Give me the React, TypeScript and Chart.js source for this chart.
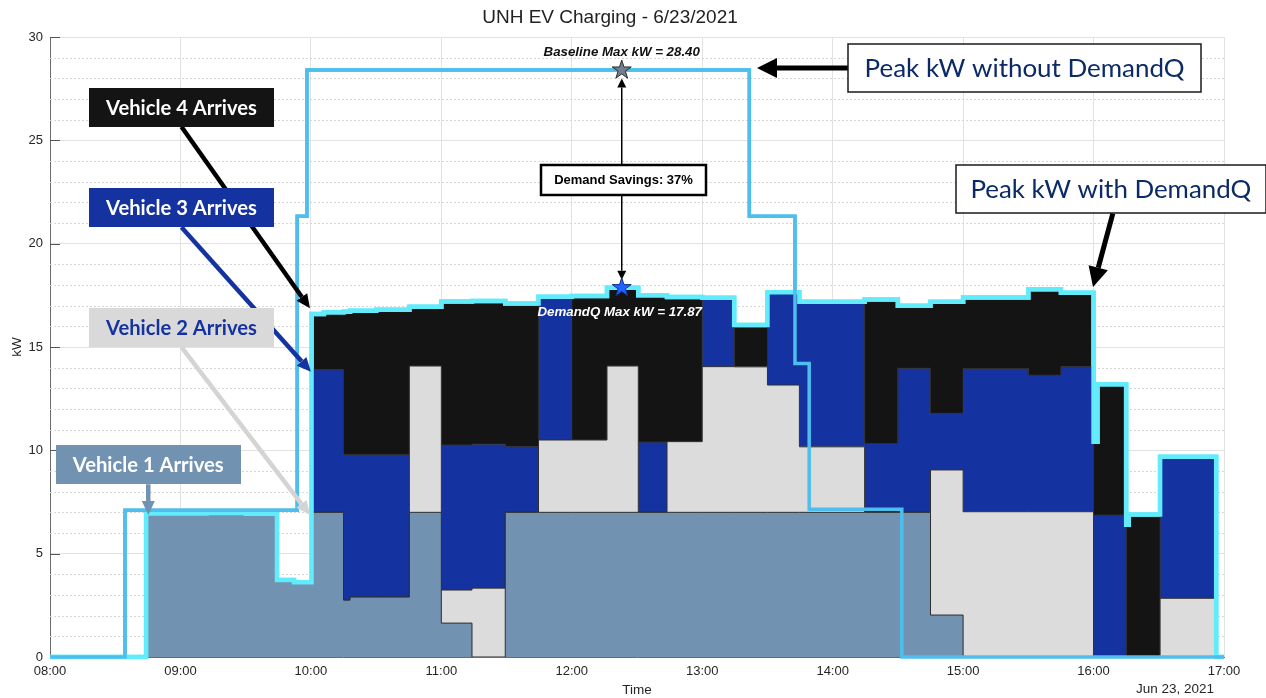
import React, { useEffect, useRef } from 'react';
import { Chart, registerables } from 'chart.js';

Chart.register(...registerables);

// ---------- data (hours since midnight, kW) ----------
const times = [8.0, 8.737, 9.2, 9.5, 9.74, 9.87, 10.005, 10.1, 10.25, 10.3, 10.5, 10.755, 11.0, 11.235, 11.49, 11.745, 12.0, 12.27, 12.51, 12.73, 13.0, 13.245, 13.5, 13.745, 14.245, 14.5, 14.75, 15.0, 15.5, 15.75, 16.0, 16.03, 16.25, 16.27, 16.51, 16.94, 17.0];
const vehicle1Kw = [0, 6.94, 6.97, 6.93, 3.72, 3.62, 7.0, 7.0, 2.75, 2.9, 2.9, 7.0, 1.64, 0, 7.0, 7.0, 7.0, 7.0, 7.0, 7.0, 7.0, 7.0, 7.0, 7.0, 7.0, 7.0, 2.03, 0, 0, 0, 0, 0, 0, 0, 0, 0, 0];
const vehicle2Kw = [0, 0, 0, 0, 0, 0, 0, 0, 0, 0, 0, 7.08, 1.6, 3.33, 0, 3.5, 3.5, 7.08, 0, 3.42, 7.05, 7.04, 6.16, 3.17, 0, 0, 7.02, 7.03, 7.03, 7.03, 0, 0, 0, 0, 2.84, 0, 0];
const vehicle3Kw = [0, 0, 0, 0, 0, 0, 6.9, 6.9, 7.05, 6.9, 6.9, 0, 7.02, 6.97, 3.17, 6.93, 0, 0, 3.4, 0, 3.33, 0, 4.49, 7.02, 3.33, 6.97, 2.74, 6.93, 6.61, 7.01, 6.87, 6.87, 0, 0, 6.85, 0, 0];
const vehicle4Kw = [0, 0, 0, 0, 0, 0, 2.7, 2.78, 6.9, 6.95, 7.0, 2.87, 6.94, 6.92, 6.93, 0, 6.97, 3.79, 7.1, 7.0, 0, 2.02, 0, 0, 6.97, 3.03, 5.4, 3.44, 4.15, 3.59, 3.55, 6.33, 6.4, 6.9, 0, 0, 0];

const baselineTimes = [8.0, 8.575, 9.895, 9.97, 13.361, 13.711, 13.82, 14.53, 17.0];
const baselineKw = [0, 7.1, 21.33, 28.4, 21.33, 14.2, 7.15, 0, 0];

const hourLabels = ['08:00', '09:00', '10:00', '11:00', '12:00', '13:00', '14:00', '15:00', '16:00', '17:00'];
const kwTicks = [0, 5, 10, 15, 20, 25, 30];

const peakTime = 12.383;
const baselineMax = 28.4;
const demandQMax = 17.87;
const savingsPct = 37;

// ---------- annotation layout ----------
const arrivalNotes = [
  { text: 'Vehicle 4 Arrives', at: [9.008, 26.6], tip: [9.993, 16.87], bg: '#141414', fg: '#ffffff', arrow: '#000000' },
  { text: 'Vehicle 3 Arrives', at: [9.008, 21.74], tip: [10.0, 13.8], bg: '#1533A0', fg: '#ffffff', arrow: '#1533A0' },
  { text: 'Vehicle 2 Arrives', at: [9.008, 15.94], tip: [9.993, 6.87], bg: '#D9D9D9', fg: '#1533A0', arrow: '#D4D4D4' },
  { text: 'Vehicle 1 Arrives', at: [8.753, 9.3], tip: [8.754, 6.87], bg: '#7292B1', fg: '#ffffff', arrow: '#7292B1' },
];

const AX = "'Liberation Sans', Arial, Helvetica, sans-serif";
const CAL = "Lato, 'Open Sans', sans-serif";

function fitSize(ctx: CanvasRenderingContext2D, text: string, weight: string, family: string, target: number) {
  ctx.font = `${weight} 100px ${family}`;
  return (100 * target) / ctx.measureText(text).width;
}

function drawArrow(ctx: CanvasRenderingContext2D, x1: number, y1: number, x2: number, y2: number, color: string, width: number, headLen: number, headW: number) {
  const a = Math.atan2(y2 - y1, x2 - x1);
  const bx = x2 - headLen * Math.cos(a);
  const by = y2 - headLen * Math.sin(a);
  ctx.strokeStyle = color;
  ctx.lineWidth = width;
  ctx.lineCap = 'butt';
  ctx.beginPath();
  ctx.moveTo(x1, y1);
  ctx.lineTo(bx, by);
  ctx.stroke();
  ctx.fillStyle = color;
  ctx.beginPath();
  ctx.moveTo(x2, y2);
  ctx.lineTo(bx + (headW / 2) * Math.sin(a), by - (headW / 2) * Math.cos(a));
  ctx.lineTo(bx - (headW / 2) * Math.sin(a), by + (headW / 2) * Math.cos(a));
  ctx.closePath();
  ctx.fill();
}

function drawStar(ctx: CanvasRenderingContext2D, cx: number, cy: number, R: number, fill: string, stroke: string) {
  ctx.beginPath();
  for (let i = 0; i < 10; i++) {
    const r = i % 2 === 0 ? R : R * 0.382;
    const a = -Math.PI / 2 + (i * Math.PI) / 5;
    ctx.lineTo(cx + r * Math.cos(a), cy + r * Math.sin(a));
  }
  ctx.closePath();
  ctx.fillStyle = fill;
  ctx.fill();
  ctx.strokeStyle = stroke;
  ctx.lineWidth = 1;
  ctx.stroke();
}

function textBox(ctx: CanvasRenderingContext2D, text: string, cx: number, cy: number, w: number, h: number, bg: string, fg: string, weight: string, family: string, textW: number, border?: string, borderW?: number) {
  const x = Math.round(cx - w / 2);
  const y = Math.round(cy - h / 2);
  ctx.fillStyle = bg;
  ctx.fillRect(x, y, w, h);
  if (border) {
    ctx.strokeStyle = border;
    ctx.lineWidth = borderW || 1;
    ctx.strokeRect(x, y, w, h);
  }
  const size = fitSize(ctx, text, weight, family, textW);
  ctx.font = `${weight} ${size}px ${family}`;
  ctx.fillStyle = fg;
  ctx.textAlign = 'center';
  ctx.textBaseline = 'alphabetic';
  ctx.fillText(text, cx, y + h / 2 + (0.7165 * size) / 2);
}

const decorPlugin = {
  id: 'decor',
  beforeDatasetsDraw(chart: any) {
    const { ctx, chartArea: a, scales } = chart;
    const y = scales.y;
    ctx.save();
    ctx.strokeStyle = '#d6d6d6';
    ctx.lineWidth = 1;
    ctx.setLineDash([2, 2]);
    for (let k = 1; k < 30; k++) {
      if (k % 5 === 0) continue;
      const py = Math.round(y.getPixelForValue(k)) + 0.5;
      ctx.beginPath();
      ctx.moveTo(a.left, py);
      ctx.lineTo(a.right, py);
      ctx.stroke();
    }
    ctx.setLineDash([]);
    ctx.strokeStyle = '#555555';
    for (const k of kwTicks) {
      const py = Math.round(y.getPixelForValue(k)) + 0.5;
      ctx.beginPath();
      ctx.moveTo(a.left, py);
      ctx.lineTo(a.left + 10, py);
      ctx.stroke();
    }
    ctx.restore();
  },
  afterDatasetsDraw(chart: any) {
    const ctx = chart.ctx;
    [3, 4].forEach((i) => {
      const meta = chart.getDatasetMeta(i);
      ctx.save();
      meta.dataset.draw(ctx, chart.chartArea);
      ctx.restore();
    });
  },
  afterDraw(chart: any) {
    const { ctx, scales } = chart;
    const X = (v: number) => scales.x.getPixelForValue(v);
    const Y = (v: number) => scales.y.getPixelForValue(v);
    ctx.save();

    // Titles
    ctx.fillStyle = '#222222';
    ctx.textAlign = 'center';
    ctx.textBaseline = 'middle';
    ctx.font = `19px ${AX}`;
    ctx.fillText('UNH EV Charging - 6/23/2021', 610, 18);
    ctx.font = `13.5px ${AX}`;
    ctx.fillStyle = '#262626';
    ctx.fillText('Time', 637, 690);
    ctx.fillText('Jun 23, 2021', 1175, 689);
    ctx.save();
    ctx.translate(17, 347);
    ctx.rotate(-Math.PI / 2);
    ctx.fillText('kW', 0, 0);
    ctx.restore();

    // Arrival annotations
    for (const n of arrivalNotes) {
      const cx = X(n.at[0]);
      const cy = Y(n.at[1]);
      const h = 39;
      drawArrow(ctx, cx, cy + h / 2, X(n.tip[0]), Y(n.tip[1]), n.arrow, 4.5, 14, 13);
      textBox(ctx, n.text, cx, cy, 185, h, n.bg, n.fg, 'bold', CAL, 151);
    }

    // Peak without DemandQ
    {
      const cx = X(15.471), cy = Y(28.5);
      drawArrow(ctx, cx - 176, cy, X(13.42), Y(28.5), '#000000', 5, 20, 20);
      textBox(ctx, 'Peak kW without DemandQ', cx, cy, 353, 48, '#ffffff', '#0B2A66', 'normal', CAL, 320, '#1a1a1a', 1.5);
    }
    // Peak with DemandQ
    {
      const cx = X(16.132), cy = Y(22.63);
      drawArrow(ctx, X(16.148), cy + 24, X(15.996), Y(17.9), '#000000', 5, 20, 20);
      textBox(ctx, 'Peak kW with DemandQ', cx, cy, 310, 48, '#ffffff', '#0B2A66', 'normal', CAL, 281, '#1a1a1a', 1.5);
    }

    // Demand savings
    const sx = X(peakTime);
    const by = Y(baselineMax);
    const dy = Y(demandQMax);
    const boxCy = Y(23.08);
    drawArrow(ctx, sx, boxCy - 15, sx, by + 8.5, '#000000', 1.5, 9, 9);
    drawArrow(ctx, sx, boxCy + 15, sx, dy - 8, '#000000', 1.5, 9, 9);
    ctx.fillStyle = '#ffffff';
    const bw = 165, bh = 30;
    const bxl = Math.round(sx + 1.6 - bw / 2), byt = Math.round(boxCy - bh / 2);
    ctx.fillRect(bxl, byt, bw, bh);
    ctx.strokeStyle = '#000000';
    ctx.lineWidth = 2.5;
    ctx.strokeRect(bxl, byt, bw, bh);
    ctx.fillStyle = '#000000';
    ctx.font = `bold 13px ${AX}`;
    ctx.textAlign = 'center';
    ctx.textBaseline = 'middle';
    ctx.fillText(`Demand Savings: ${savingsPct}%`, bxl + bw / 2, byt + bh / 2 + 0.5);

    // Stars & max labels
    drawStar(ctx, sx, by, 10, '#708090', '#2b2b2b');
    drawStar(ctx, sx, dy, 10, '#1F62FF', '#12308a');
    ctx.font = `italic bold 13.3px ${AX}`;
    ctx.fillStyle = '#111111';
    ctx.fillText(`Baseline Max kW = ${baselineMax.toFixed(2)}`, sx, by - 18);
    ctx.fillStyle = '#ffffff';
    ctx.fillText(`DemandQ Max kW = ${demandQMax.toFixed(2)}`, sx - 2, dy + 25);

    ctx.restore();
  },
};

export default function App() {
  const ref = useRef<HTMLCanvasElement | null>(null);
  useEffect(() => {
    const canvas = ref.current;
    if (!canvas) return;
    const mk = (vals: number[]) => times.map((t, i) => ({ x: t, y: vals[i] }));
    const edge = '#2e2e2e';
    const common = { stack: 'ev', stepped: 'before', pointRadius: 0, borderWidth: 1, borderColor: edge, tension: 0 };
    const chart = new Chart(canvas, {
      type: 'line',
      data: {
        datasets: [
          { ...common, label: 'Vehicle 1', data: mk(vehicle1Kw), fill: 'origin', backgroundColor: '#7292B1' },
          { ...common, label: 'Vehicle 2', data: mk(vehicle2Kw), fill: '-1', backgroundColor: '#DCDCDC' },
          { ...common, label: 'Vehicle 3', data: mk(vehicle3Kw), fill: '-1', backgroundColor: '#1533A0' },
          { ...common, label: 'Vehicle 4', data: mk(vehicle4Kw), fill: '-1', backgroundColor: '#141414', borderColor: '#62ECFB', borderWidth: 4.5 },
          {
            label: 'Baseline',
            data: baselineTimes.map((t, i) => ({ x: t, y: baselineKw[i] })),
            stack: 'base',
            stepped: 'before',
            fill: false,
            pointRadius: 0,
            borderColor: '#4DBEEE',
            borderWidth: 3.5,
          },
        ] as any,
      },
      options: {
        responsive: false,
        animation: false,
        devicePixelRatio: 1,
        layout: { padding: { top: 37, right: 42, left: 0, bottom: 0 } },
        plugins: { legend: { display: false }, tooltip: { enabled: false }, title: { display: false } },
        scales: {
          x: {
            type: 'linear',
            min: 8,
            max: 17,
            afterFit: (s: any) => { s.height = 41; },
            ticks: {
              stepSize: 1,
              autoSkip: false,
              maxRotation: 0,
              padding: 7,
              color: '#262626',
              font: { family: AX, size: 13 },
              callback: (v: any) => hourLabels[Math.round(Number(v)) - 8] ?? '',
            },
            grid: { color: '#e2e2e2', drawTicks: false, lineWidth: 1 },
            border: { color: '#6a6a6a', width: 1 },
          },
          y: {
            stacked: true,
            min: 0,
            max: 30,
            afterFit: (s: any) => { s.width = 50; },
            ticks: { stepSize: 5, padding: 7, color: '#262626', font: { family: AX, size: 13 } },
            grid: { color: '#e2e2e2', drawTicks: false, lineWidth: 1 },
            border: { color: '#6a6a6a', width: 1 },
          },
        },
      } as any,
      plugins: [decorPlugin],
    });
    return () => chart.destroy();
  }, []);
  return (
    <div style={{ position: 'absolute', left: 0, top: 0, width: 1266, height: 698, background: '#ffffff' }}>
      <canvas ref={ref} width={1266} height={698} style={{ display: 'block', width: 1266, height: 698 }} />
    </div>
  );
}
